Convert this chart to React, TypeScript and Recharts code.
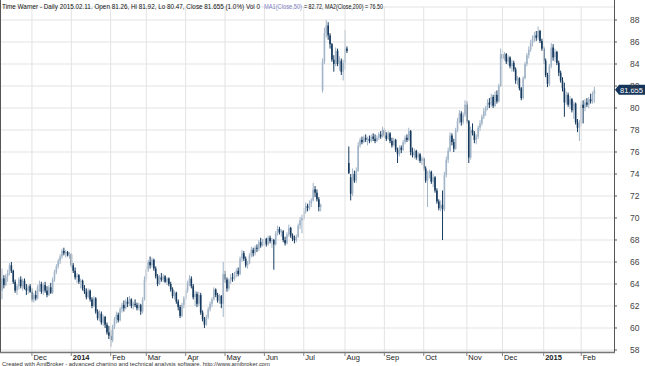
import React from "react";
import {
  ComposedChart,
  Bar,
  XAxis,
  YAxis,
  CartesianGrid,
  ReferenceLine,
} from "recharts";

// daily bars [open, high, low, close]
const nov2013 = [
  [63.4, 65.4, 62.6, 64.5], [64.5, 64.8, 63.6, 63.9], [63.9, 64.9, 63.8, 64.7], [64.7, 65.3, 64.2, 65.0],
  [65.0, 65.9, 64.8, 65.7], [65.7, 66.0, 65.0, 65.2], [65.2, 65.3, 64.0, 64.2], [64.2, 64.4, 63.2, 63.4],
  [63.4, 64.0, 63.0, 63.8], [63.8, 64.6, 63.5, 64.4], [64.4, 64.7, 63.6, 63.8], [63.8, 64.5, 63.4, 64.3],
  [64.3, 64.5, 63.5, 63.6], [63.6, 64.0, 63.0, 63.4], [63.4, 63.9, 63.1, 63.8], [63.8, 64.0, 63.2, 63.3],
];
const dec2013 = [
  [63.3, 63.6, 62.4, 62.6], [62.6, 63.2, 62.3, 63.0], [63.0, 63.4, 62.5, 62.7], [62.7, 63.9, 62.6, 63.7],
  [63.7, 64.3, 63.3, 64.0], [64.0, 64.2, 63.1, 63.3], [63.3, 64.1, 63.0, 63.9], [63.9, 64.2, 63.2, 63.4],
  [63.4, 63.8, 62.8, 63.0], [63.0, 63.9, 62.9, 63.7], [63.7, 64.1, 63.1, 63.2], [63.2, 64.6, 63.1, 64.4],
  [64.4, 65.3, 64.2, 65.1], [65.1, 65.8, 64.9, 65.6], [65.6, 66.3, 65.4, 66.1], [66.1, 66.7, 65.8, 66.5],
  [66.5, 67.2, 66.3, 67.0], [67.0, 67.3, 66.6, 66.8], [66.8, 67.1, 66.4, 66.9], [66.9, 67.0, 66.5, 66.6],
  [66.6, 66.9, 66.3, 66.7],
];
const jan2014 = [
  [66.7, 66.8, 65.5, 65.7], [65.7, 65.9, 65.0, 65.2], [65.2, 65.5, 64.4, 64.6], [64.6, 65.0, 64.1, 64.8],
  [64.8, 64.9, 64.0, 64.2], [64.2, 64.5, 63.6, 64.3], [64.3, 64.4, 63.4, 63.6], [63.6, 63.9, 63.1, 63.3],
  [63.3, 63.6, 62.6, 62.8], [62.8, 63.6, 62.7, 63.4], [63.4, 63.5, 62.4, 62.6], [62.6, 62.8, 61.8, 62.0],
  [62.0, 62.9, 61.9, 62.7], [62.7, 62.8, 61.3, 61.5], [61.5, 61.7, 60.7, 60.9], [60.9, 61.6, 60.6, 61.3],
  [61.3, 61.5, 60.3, 60.5], [60.5, 61.2, 60.2, 61.0], [61.0, 61.1, 60.0, 60.3], [60.3, 60.5, 59.4, 59.6],
  [59.6, 60.2, 59.0, 59.3],
];
const feb2014 = [
  [59.3, 59.8, 58.3, 58.9], [58.9, 60.3, 58.7, 60.1], [60.1, 61.0, 59.9, 60.8], [60.8, 61.5, 60.4, 61.2],
  [61.2, 61.4, 60.5, 60.7], [60.7, 61.9, 60.6, 61.7], [61.7, 62.3, 61.4, 62.1], [62.1, 62.5, 61.5, 61.8],
  [61.8, 62.6, 61.7, 62.4], [62.4, 62.8, 61.9, 62.2], [62.2, 62.9, 62.0, 62.6], [62.6, 62.7, 61.8, 62.0],
  [62.0, 62.4, 61.7, 62.2], [62.2, 62.6, 61.9, 62.1], [62.1, 62.3, 61.6, 61.8], [61.8, 62.3, 61.6, 62.1],
  [62.1, 62.2, 61.2, 61.5], [61.5, 62.8, 61.3, 62.6], [62.6, 64.7, 62.5, 64.4],
];
const mar2014 = [
  [64.4, 65.6, 64.2, 65.3], [65.3, 66.2, 65.1, 66.0], [66.0, 66.5, 65.4, 65.7], [65.7, 66.4, 65.5, 66.2],
  [66.2, 66.3, 65.2, 65.4], [65.4, 65.6, 64.5, 64.7], [64.7, 64.9, 63.8, 64.0], [64.0, 64.8, 63.9, 64.6],
  [64.6, 65.0, 64.2, 64.4], [64.4, 64.9, 64.2, 64.7], [64.7, 64.8, 64.1, 64.2], [64.2, 64.6, 63.9, 64.5],
  [64.5, 64.6, 63.8, 64.0], [64.0, 64.2, 63.3, 63.5], [63.5, 63.7, 62.7, 62.9], [62.9, 63.4, 62.6, 63.2],
  [63.2, 63.3, 62.2, 62.4], [62.4, 62.6, 61.6, 61.9], [61.9, 62.1, 60.9, 61.1], [61.1, 62.3, 61.0, 62.1],
  [62.1, 62.9, 61.8, 62.7],
];
const apr2014 = [
  [62.7, 63.6, 62.5, 63.4], [63.4, 64.3, 63.2, 64.1], [64.1, 64.8, 63.8, 64.5], [64.5, 64.7, 63.6, 63.8],
  [63.8, 64.0, 62.6, 62.8], [62.8, 63.4, 62.0, 63.1], [63.1, 63.3, 61.9, 62.2], [62.2, 63.3, 62.0, 63.0],
  [63.0, 63.2, 61.2, 61.4], [61.4, 61.6, 60.6, 60.8], [60.8, 61.0, 60.0, 60.3], [60.3, 61.2, 60.2, 61.0],
  [61.0, 61.9, 60.8, 61.7], [61.7, 62.4, 61.5, 62.2], [62.2, 62.8, 61.9, 62.6], [62.6, 63.7, 62.5, 63.5],
  [63.5, 63.6, 62.8, 63.0], [63.0, 63.2, 62.3, 62.5], [62.5, 63.1, 62.2, 62.9], [62.9, 63.0, 61.8, 62.2],
  [62.2, 66.0, 61.0, 64.9],
];
const may2014 = [
  [64.9, 65.2, 64.1, 64.4], [64.4, 64.6, 63.3, 63.6], [63.6, 64.5, 63.4, 64.3], [64.3, 64.9, 64.0, 64.6],
  [64.6, 65.0, 64.2, 64.5], [64.5, 65.1, 64.3, 64.9], [64.9, 65.4, 64.6, 65.2], [65.2, 65.5, 64.7, 64.9],
  [64.9, 66.5, 64.8, 66.3], [66.3, 67.1, 66.0, 66.8], [66.8, 67.0, 66.1, 66.3], [66.3, 66.5, 65.5, 65.7],
  [65.7, 66.1, 65.4, 65.9], [65.9, 66.8, 65.8, 66.6], [66.6, 67.4, 66.4, 67.1], [67.1, 67.3, 66.5, 66.8],
  [66.8, 67.5, 66.6, 67.3], [67.3, 67.6, 66.9, 67.2], [67.2, 68.0, 67.0, 67.8], [67.8, 68.2, 67.3, 67.5],
  [67.5, 68.1, 67.4, 67.9],
];
const jun2014 = [
  [67.9, 68.3, 67.5, 68.1], [68.1, 68.2, 67.4, 67.6], [67.6, 68.4, 67.5, 68.2], [68.2, 68.4, 67.7, 67.9],
  [67.9, 68.2, 67.3, 68.0], [68.0, 68.1, 65.3, 67.6], [67.6, 68.8, 67.5, 68.6], [68.6, 69.3, 68.4, 69.0],
  [69.0, 69.2, 68.5, 68.7], [68.7, 69.0, 68.3, 68.8], [68.8, 68.9, 67.8, 68.0], [68.0, 68.3, 67.5, 67.7],
  [67.7, 68.7, 67.6, 68.5], [68.5, 69.4, 68.3, 69.1], [69.1, 69.2, 68.2, 68.4], [68.4, 68.6, 67.9, 68.1],
  [68.1, 68.4, 67.7, 68.0], [68.0, 68.5, 67.8, 68.3], [68.3, 69.5, 68.2, 69.3], [69.3, 70.1, 69.0, 69.8],
  [69.8, 70.3, 68.6, 70.0],
];
const jul2014 = [
  [70.0, 70.9, 69.8, 70.6], [70.6, 71.4, 70.4, 71.1], [71.1, 71.3, 70.6, 70.9], [70.9, 71.6, 70.7, 71.3],
  [71.3, 71.8, 71.0, 71.6], [71.6, 73.2, 71.5, 72.6], [72.6, 72.9, 71.9, 72.3], [72.3, 72.6, 71.5, 71.7],
  [71.7, 71.9, 70.6, 71.0], [71.0, 71.3, 70.6, 71.2], [81.6, 84.5, 81.4, 84.2], [84.2, 87.3, 84.0, 86.8],
  [86.8, 88.0, 86.4, 87.5], [87.5, 87.8, 86.2, 86.6], [86.6, 86.8, 85.4, 85.8], [85.8, 85.9, 84.2, 84.4],
  [84.4, 84.8, 83.3, 84.0], [84.0, 85.5, 83.8, 85.2], [85.2, 85.4, 83.8, 84.0], [84.0, 84.7, 83.4, 84.3],
  [84.3, 84.5, 83.0, 83.3], [83.3, 84.4, 82.5, 84.1],
];
const aug2014 = [
  [84.1, 87.1, 83.5, 85.4], [85.4, 85.6, 85.0, 85.2], [75.0, 76.5, 74.0, 74.1], [73.7, 74.0, 71.6, 72.2],
  [72.2, 74.5, 72.0, 74.0], [74.0, 74.3, 73.2, 73.4], [73.4, 74.6, 73.2, 74.3], [74.3, 76.9, 74.2, 76.6],
  [76.6, 77.3, 76.4, 77.1], [77.1, 77.4, 76.7, 76.9], [76.9, 77.5, 76.8, 77.3], [77.3, 77.6, 76.9, 77.1],
  [77.1, 77.4, 76.6, 77.2], [77.2, 77.5, 76.8, 77.0], [77.0, 77.6, 76.9, 77.4], [77.4, 77.7, 77.0, 77.2],
  [77.2, 77.6, 76.8, 77.0], [77.0, 77.5, 76.9, 77.3], [77.3, 77.8, 77.1, 77.6], [77.6, 77.9, 77.2, 77.4],
  [77.4, 78.3, 77.3, 78.0],
];
const sep2014 = [
  [78.0, 78.2, 77.3, 77.5], [77.5, 77.8, 77.0, 77.2], [77.2, 77.9, 77.1, 77.7], [77.7, 77.8, 76.8, 77.0],
  [77.0, 77.3, 76.4, 76.6], [76.6, 77.3, 76.5, 77.1], [77.1, 77.2, 76.0, 76.2], [76.2, 76.4, 75.0, 75.8],
  [75.8, 76.6, 75.6, 76.4], [76.4, 76.6, 75.9, 76.2], [76.2, 77.1, 76.1, 76.9], [76.9, 77.5, 76.7, 77.3],
  [77.3, 77.6, 76.9, 77.1], [77.1, 78.2, 77.0, 77.9], [77.9, 78.0, 75.7, 76.0], [76.0, 76.4, 75.5, 75.7],
  [75.7, 76.3, 75.4, 76.1], [76.1, 76.2, 75.3, 75.5], [75.5, 76.0, 75.2, 75.8], [75.8, 75.9, 75.0, 75.2],
  [75.2, 75.6, 74.8, 75.4],
];
const oct2014 = [
  [75.4, 75.5, 74.3, 74.5], [74.5, 74.7, 73.2, 73.4], [73.4, 74.3, 71.0, 74.0], [74.0, 74.4, 73.6, 74.2],
  [74.2, 74.3, 73.1, 73.3], [73.3, 74.0, 72.8, 73.7], [73.7, 73.8, 72.3, 72.5], [72.5, 72.7, 71.3, 71.5],
  [71.5, 71.7, 70.7, 70.9], [70.9, 71.6, 70.6, 71.2], [71.2, 72.5, 68.0, 70.8], [70.8, 74.2, 70.6, 73.9],
  [73.9, 75.6, 73.7, 75.3], [75.3, 76.4, 75.0, 76.1], [76.1, 77.8, 76.0, 77.5], [77.5, 77.7, 76.6, 76.9],
  [76.9, 77.2, 76.0, 76.3], [76.3, 78.2, 76.2, 78.0], [78.0, 79.1, 77.8, 78.8], [78.8, 79.8, 78.6, 79.5],
  [79.5, 79.7, 78.4, 78.7], [78.7, 79.6, 78.5, 79.4], [79.4, 80.7, 79.2, 80.3],
];
const nov2014 = [
  [80.3, 80.6, 78.6, 78.8], [78.8, 78.9, 75.0, 75.5], [75.5, 78.3, 75.3, 78.0], [78.0, 78.6, 77.5, 77.7],
  [77.7, 77.9, 76.8, 77.1], [77.1, 77.6, 76.7, 77.4], [77.4, 78.4, 77.2, 78.2], [78.2, 78.9, 77.9, 78.6],
  [78.6, 79.4, 78.4, 79.2], [79.2, 80.0, 79.0, 79.7], [79.7, 80.2, 79.3, 80.0], [80.0, 80.8, 79.8, 80.5],
  [80.5, 80.9, 80.0, 80.3], [80.3, 81.3, 80.1, 81.0], [81.0, 81.2, 80.0, 80.2], [80.2, 81.5, 80.1, 81.2],
  [81.2, 81.6, 80.4, 80.6], [80.6, 82.2, 80.5, 82.0], [82.0, 85.4, 81.9, 84.9],
];
const dec2014 = [
  [84.9, 85.2, 84.2, 84.5], [84.5, 85.1, 84.3, 84.9], [84.9, 85.0, 84.0, 84.2], [84.2, 84.8, 83.9, 84.6],
  [84.6, 84.7, 83.6, 83.8], [83.8, 84.4, 83.3, 84.1], [84.1, 84.3, 83.3, 83.5], [83.5, 83.7, 82.2, 82.5],
  [82.5, 82.9, 82.1, 82.7], [82.7, 82.8, 81.6, 81.8], [81.8, 81.9, 80.7, 80.9], [80.9, 82.9, 80.8, 82.7],
  [82.7, 84.2, 82.6, 84.0], [84.0, 85.0, 83.8, 84.8], [84.8, 85.6, 84.5, 85.3], [85.3, 86.2, 85.1, 85.9],
  [85.9, 86.6, 85.6, 86.3], [86.3, 86.9, 86.0, 86.6], [86.6, 87.0, 86.1, 86.4], [86.4, 87.4, 86.2, 87.0],
  [87.0, 87.1, 85.9, 86.1], [86.1, 86.3, 85.2, 85.4],
];
const jan2015 = [
  [85.4, 85.6, 84.0, 84.3], [84.3, 84.5, 82.8, 83.0], [83.0, 83.2, 81.9, 82.2], [82.2, 84.0, 82.0, 83.8],
  [83.8, 85.9, 83.6, 85.5], [85.5, 85.8, 84.3, 84.6], [84.6, 85.4, 84.2, 85.1], [85.1, 85.2, 83.9, 84.1],
  [84.1, 84.3, 82.9, 83.2], [83.2, 83.4, 82.3, 82.5], [82.5, 82.8, 81.5, 81.8], [81.8, 82.3, 79.2, 80.5],
  [80.5, 81.5, 80.3, 81.2], [81.2, 81.4, 80.1, 80.3], [80.3, 81.1, 79.9, 80.8], [80.8, 80.9, 79.6, 79.8],
  [79.8, 80.6, 79.0, 80.4], [80.4, 80.5, 78.5, 78.7], [78.7, 79.0, 77.8, 78.2], [78.2, 78.9, 77.0, 78.6],
];
const feb2015 = [
  [78.6, 80.6, 78.4, 80.3], [80.3, 80.7, 78.6, 80.0], [80.0, 80.8, 79.7, 80.5], [80.5, 80.9, 80.1, 80.3],
  [80.3, 81.0, 80.0, 80.8], [80.8, 81.3, 80.4, 80.6], [80.6, 81.5, 80.4, 81.3], [81.26, 81.92, 80.47, 81.655],
];

const months = [nov2013, dec2013, jan2014, feb2014, mar2014, apr2014, may2014, jun2014, jul2014, aug2014, sep2014, oct2014, nov2014, dec2014, jan2015, feb2015];
// label for each month start after the first (partial) month
const monthLabels = ["Dec", "2014", "Feb", "Mar", "Apr", "May", "Jun", "Jul", "Aug", "Sep", "Oct", "Nov", "Dec", "2015", "Feb"];
const yTicks = [58, 60, 62, 64, 66, 68, 70, 72, 74, 76, 78, 80, 82, 84, 86, 88];
const emptySlots = 10;
const lastClose = 81.655;

const W = 645;
const H = 366;
const PLOT_RIGHT = 614;
const PLOT_BOTTOM = 352;
const UP = "#a2b5c8";
const DOWN = "#163a5e";
const FONT = "Arial, 'Liberation Sans', sans-serif";

const bars = months.flat();
const data: any[] = bars.map(([o, h, l, c], i) => ({ i, o, h, l, c, range: [l, h] }));
for (let k = 0; k < emptySlots; k++) data.push({ i: bars.length + k });

const monthStarts: { i: number; label: string }[] = [];
{
  let idx = 0;
  months.forEach((m, k) => {
    if (k > 0) monthStarts.push({ i: idx, label: monthLabels[k - 1] });
    idx += m.length;
  });
}
const startMap = new Map(monthStarts.map((m) => [m.i, m.label]));

const Candle = (props: any) => {
  const { x, y, width, height, payload } = props;
  if (!payload || payload.o == null) return null;
  const { o, h, l, c } = payload;
  const top = Math.min(y, y + height);
  const hh = Math.abs(height);
  const pix = (v: number) => (h === l ? top : top + ((h - v) / (h - l)) * hh);
  const cx = x + width / 2;
  const color = c >= o ? UP : DOWN;
  const bTop = pix(Math.max(o, c));
  const bBot = pix(Math.min(o, c));
  return (
    <g>
      <line x1={cx} x2={cx} y1={top} y2={top + hh} stroke={color} strokeWidth={1} />
      <rect x={cx - 0.8} y={bTop} width={1.6} height={Math.max(bBot - bTop, 0.8)} fill={color} />
    </g>
  );
};

const MonthTick = (props: any) => {
  const { x, payload } = props;
  const label = startMap.get(payload.value);
  if (!label) return <g />;
  const bold = label === "2014" || label === "2015";
  return (
    <g>
      <line x1={x} x2={x} y1={PLOT_BOTTOM} y2={PLOT_BOTTOM + 4} stroke="#666" strokeWidth={0.8} />
      <text x={x + 1.5} y={PLOT_BOTTOM + 7.5} fontSize={7.5} fontWeight={bold ? 700 : 400} fill="#222" fontFamily={FONT}>
        {label}
      </text>
    </g>
  );
};

const PriceTick = (props: any) => {
  const { y, payload } = props;
  return (
    <g>
      <line x1={PLOT_RIGHT} x2={PLOT_RIGHT + 3} y1={y} y2={y} stroke="#555" strokeWidth={1} />
      <text x={PLOT_RIGHT + 16} y={y + 3} fontSize={8.5} fill="#444" fontFamily={FONT}>
        {payload.value}
      </text>
    </g>
  );
};

const LastPriceLabel = (props: any) => {
  const vb = props.viewBox || {};
  const yy = vb.y;
  const x0 = PLOT_RIGHT + 1;
  return (
    <g>
      <path d={`M${x0} ${yy} L${x0 + 4} ${yy - 5} L${W} ${yy - 5} L${W} ${yy + 5} L${x0 + 4} ${yy + 5} Z`} fill="#15355a" />
      <text x={x0 + 5} y={yy + 2.8} fontSize={7.5} fill="#fff" fontFamily={FONT}>
        {lastClose}
      </text>
    </g>
  );
};

// squeeze header/footer text horizontally like the narrow AmiBroker font;
// width is the target on-screen width
const Squeezed = ({ x, y, sx, size, color, width, children }: any) => (
  <g transform={`translate(${x},${y}) scale(${sx},1)`}>
    <text x={0} y={0} fontSize={size} fill={color} fontFamily={FONT} textLength={width / sx} lengthAdjust="spacingAndGlyphs">
      {children}
    </text>
  </g>
);

export default function App() {
  return (
    <div style={{ position: "absolute", left: 0, top: 0, width: W, height: H, background: "#fff", overflow: "hidden" }}>
      <ComposedChart width={W} height={H} data={data} margin={{ top: 7, right: 0, left: 0, bottom: 0 }} barCategoryGap={0}>
        <CartesianGrid vertical={false} stroke="#e3e3e3" strokeWidth={1} />
        {monthStarts.map((m) => (
          <ReferenceLine key={m.i} x={m.i} stroke="#e3e3e3" strokeWidth={1} />
        ))}
        <XAxis
          dataKey="i"
          type="category"
          height={14}
          interval={0}
          padding={{ left: 1, right: 0 }}
          tickLine={false}
          axisLine={false}
          tick={<MonthTick />}
        />
        <YAxis
          orientation="right"
          type="number"
          width={31}
          domain={[57.818, 89.182]}
          ticks={yTicks}
          interval={0}
          allowDataOverflow
          tickLine={false}
          axisLine={false}
          tick={<PriceTick />}
        />
        <Bar dataKey="range" isAnimationActive={false} shape={<Candle />} />
        <ReferenceLine y={lastClose} stroke="none" label={<LastPriceLabel />} />
      </ComposedChart>
      <svg width={W} height={H} style={{ position: "absolute", left: 0, top: 0, pointerEvents: "none" }}>
        <line x1={0.5} x2={0.5} y1={0} y2={PLOT_BOTTOM} stroke="#555" strokeWidth={1} />
        <line x1={PLOT_RIGHT + 0.5} x2={PLOT_RIGHT + 0.5} y1={0} y2={PLOT_BOTTOM} stroke="#555" strokeWidth={1} />
        <line x1={0} x2={PLOT_RIGHT + 1} y1={PLOT_BOTTOM + 0.5} y2={PLOT_BOTTOM + 0.5} stroke="#777" strokeWidth={1.5} />
        <Squeezed x={2} y={9} sx={0.8} size={8} color="#111" width={258}>
          Time Warner - Daily 2015.02.11. Open 81.26, Hi 81.92, Lo 80.47, Close 81.655 (1.0%) Vol 0
        </Squeezed>
        <Squeezed x={264} y={9} sx={0.72} size={8} color="#7f7fc4" width={38}>
          MA1(Close,50)
        </Squeezed>
        <Squeezed x={304} y={9} sx={0.67} size={8} color="#111" width={79}>
          = 82.72, MA2(Close,200) = 76.50
        </Squeezed>
        <Squeezed x={2} y={365.5} sx={1.14} size={5} color="#333" width={268}>
          Created with AmiBroker - advanced charting and technical analysis software. http://www.amibroker.com
        </Squeezed>
      </svg>
    </div>
  );
}
